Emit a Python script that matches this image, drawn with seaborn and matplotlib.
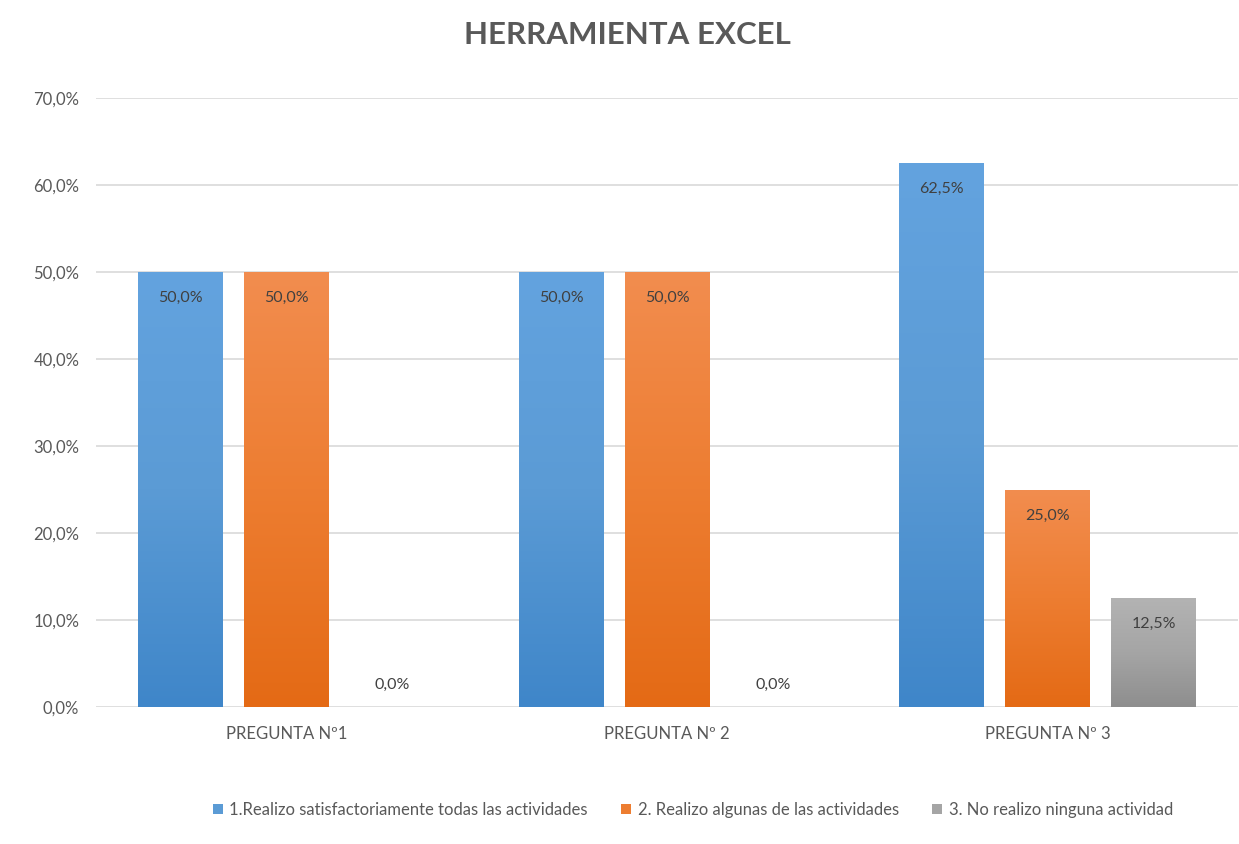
import matplotlib
matplotlib.use("Agg")
import matplotlib.pyplot as plt
import seaborn as sns
import pandas as pd
import numpy as np
from matplotlib.colors import LinearSegmentedColormap

# ---- data ----
categories = ["PREGUNTA Nº1", "PREGUNTA Nº 2", "PREGUNTA Nº 3"]
series = ["1.Realizo satisfactoriamente todas las actividades",
          "2. Realizo algunas de las actividades",
          "3. No realizo ninguna actividad"]
serie1 = [50.0, 50.0, 62.5]
serie2 = [50.0, 50.0, 25.0]
serie3 = [0.0, 0.0, 12.5]
y_ticks = [0, 10, 20, 30, 40, 50, 60, 70]
title = "HERRAMIENTA EXCEL"

colors = ["#5B9BD5", "#ED7D31", "#A5A5A5"]
grad_top = ["#63A3DF", "#F28D4F", "#B3B3B3"]
grad_bot = ["#3F86C9", "#E46A15", "#8E8E8E"]

rows = []
for s, vals in zip(series, [serie1, serie2, serie3]):
    for c, v in zip(categories, vals):
        rows.append({"cat": c, "serie": s, "val": v})
df = pd.DataFrame(rows)

sns.set_theme(style="white")
plt.rcParams['font.family'] = ['Lato', 'DejaVu Sans']

W, H, DPI = 1239, 844, 100
fig = plt.figure(figsize=(W / DPI, H / DPI), dpi=DPI)
ax = fig.add_axes([96 / W, (H - 707) / H, (1238 - 96) / W, (707 - 98) / H])

sns.barplot(data=df, x="cat", y="val", hue="serie", order=categories,
            hue_order=series, palette=colors, saturation=1, width=0.835,
            gap=0.2, linewidth=0, ax=ax, legend=True)

ax.set_xlim(-0.5, 2.5)
ax.set_ylim(0, 70)

# gradients on bars + value labels
for i, cont in enumerate(ax.containers):
    cmap = LinearSegmentedColormap.from_list("g", [grad_bot[i], colors[i], grad_top[i]])
    for p in cont:
        h = p.get_height()
        if h <= 0:
            continue
        x0 = p.get_x(); w = p.get_width()
        grad = np.linspace(0, 1, 256).reshape(-1, 1)
        im = ax.imshow(grad, cmap=cmap, origin="lower", aspect="auto",
                       extent=[x0, x0 + w, 0, h], zorder=p.get_zorder() + 0.1,
                       interpolation="bicubic")
        im.set_clip_path(p)
    for p in cont:
        h = p.get_height()
        cx = p.get_x() + p.get_width() / 2
        txt = f"{h:.1f}%".replace(".", ",")
        off = -26 if h > 0 else 22
        ax.annotate(txt, xy=(cx, h), xytext=(0, off), textcoords="offset pixels",
                    ha="center", va="center", fontsize=11.5, color="#404040",
                    zorder=10)

ax.set_xlim(-0.5, 2.5)
ax.set_ylim(0, 70)
ax.set_yticks(y_ticks)
ax.set_yticklabels([f"{t:.1f}%".replace(".", ",") for t in y_ticks])
ax.set_xlabel("")
ax.set_ylabel("")
ax.yaxis.grid(True, color="#D9D9D9", linewidth=1.2)
ax.set_axisbelow(True)
for sp in ax.spines.values():
    sp.set_visible(False)
ax.tick_params(axis="y", length=0, pad=12, labelsize=12, labelcolor="#595959")
ax.tick_params(axis="x", length=0, pad=14, labelsize=12, labelcolor="#595959")

handles, labels = ax.get_legend_handles_labels()
if ax.legend_:
    ax.legend_.remove()
fig.legend(handles, labels, loc="center", bbox_to_anchor=(693 / W, 1 - 810 / H),
           ncol=3, frameon=False, fontsize=12, handlelength=0.6,
           handleheight=0.6, handletextpad=0.4, columnspacing=2.0,
           labelcolor="#595959")

fig.text(627 / W, 1 - 35 / H, title, ha="center", va="center", fontsize=22.5,
         fontweight="bold", color="#595959")

fig.savefig("out.png", dpi=DPI, facecolor="white")
